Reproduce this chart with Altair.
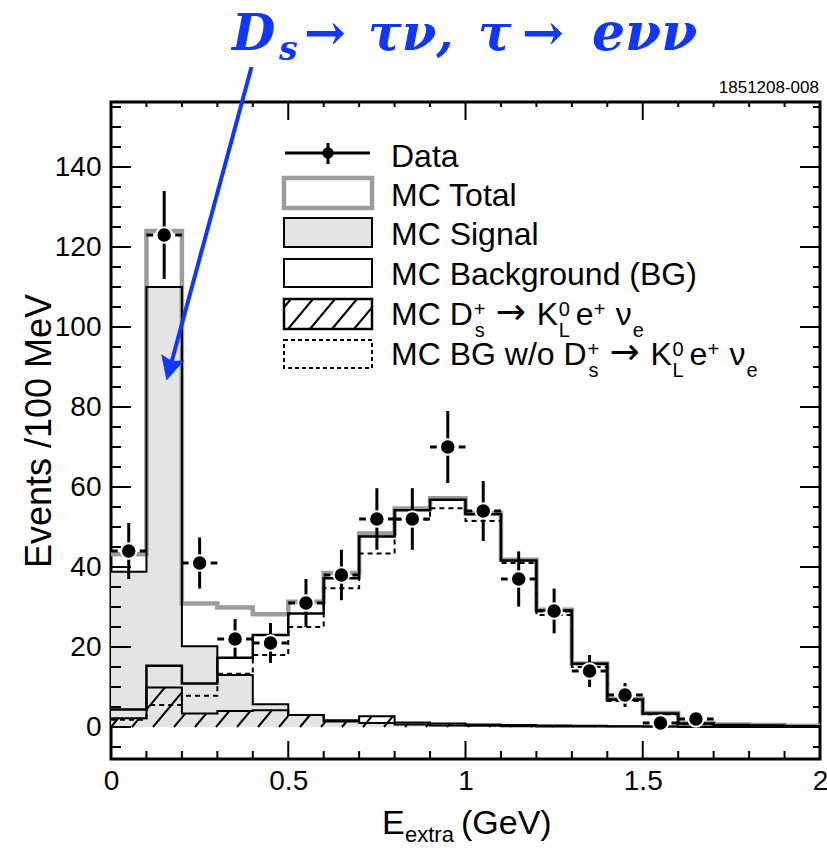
import altair as alt
import numpy as np
import pandas as pd

# ---------------- values ----------------
bin_lo = [0.0, 0.1, 0.2, 0.3, 0.4, 0.5, 0.6, 0.7, 0.8, 0.9,
          1.0, 1.1, 1.2, 1.3, 1.4, 1.5, 1.6, 1.7, 1.8, 1.9]
bin_width = 0.1

mc_total = [43.2, 124.0, 30.9, 29.9, 28.2, 31.3, 38.5, 48.4, 54.6, 57.2,
            53.5, 41.8, 29.3, 15.9, 7.0, 3.5, 1.0, 0.6, 0.5, 0.3]
mc_signal = [38.8, 110.0, 20.2, 13.0, 5.7, 3.0, 1.4, 1.0, 0.6, 0.4,
             0.3, 0.2, 0.1, 0.1, 0.1, 0.1, 0.0, 0.0, 0.0, 0.0]
mc_bg = [4.4, 15.3, 10.9, 17.3, 23.0, 28.4, 37.2, 47.6, 54.2, 56.8,
         53.2, 41.6, 29.1, 15.8, 6.9, 3.4, 0.9, 0.5, 0.4, 0.2]
mc_kl = [2.2, 9.9, 3.4, 4.0, 4.2, 3.0, 1.7, 2.7, 1.1, 0.9,
         0.6, 0.5, 0.4, 0.3, 0.2, 0.1, 0.1, 0.1, 0.1, 0.1]
mc_bg_wo = [1.8, 5.5, 7.8, 13.3, 18.0, 25.0, 34.7, 43.4, 51.9, 54.7,
            51.5, 41.0, 28.0, 15.0, 6.5, 3.2, 0.8, 0.4, 0.3, 0.1]

data_x = [0.05, 0.15, 0.25, 0.35, 0.45, 0.55, 0.65, 0.75, 0.85, 0.95,
          1.05, 1.15, 1.25, 1.35, 1.45, 1.55, 1.65]
data_y = [44, 123, 41, 22, 21, 31, 38, 52, 52, 70,
          54, 37, 29, 14, 8, 1, 2]
data_err = [7.0, 11.0, 6.4, 5.0, 5.0, 6.0, 6.3, 7.7, 7.7, 9.0,
            7.5, 6.9, 5.6, 4.0, 3.0, 1.2, 1.5]

x_tick_labels = [0, 0.5, 1, 1.5, 2]
y_tick_labels = [0, 20, 40, 60, 80, 100, 120, 140]

# ---------------- layout ----------------
W, H = 709, 657
PAD_L, PAD_T, PAD_R, PAD_B = 111, 102, 7, 89
XMIN, XMAX = 0.0, 2.0
YMIN, YMAX = -8.0, 156.25
PXX = W / (XMAX - XMIN)
PXY = H / (YMAX - YMIN)

SANS = "Liberation Sans"
SERIF = "DejaVu Serif"
BLUE = "#1036ff"
GRAY_LINE = "#9c9c9c"
GRAY_FILL = "#e4e4e4"


def ax(px):  # absolute page pixel -> data x
    return XMIN + (px - PAD_L) / PXX


def ay(py):  # absolute page pixel -> data y
    return YMAX - (py - PAD_T) / PXY


xs = alt.Scale(domain=[XMIN, XMAX], nice=False, zero=False)
ys = alt.Scale(domain=[YMIN, YMAX], nice=False, zero=False)
x_axis = alt.Axis(values=x_tick_labels, format="~g", ticks=False, domain=False, grid=False,
                  labelFont=SANS, labelFontSize=28, labelColor="black", labelPadding=8,
                  labelFlush=False, tickSize=0, title=None)
y_axis = alt.Axis(values=y_tick_labels, ticks=False, domain=False, grid=False,
                  labelFont=SANS, labelFontSize=28, labelColor="black", labelPadding=10,
                  tickSize=0, title=None)


def XQ(f):
    return alt.X(f, type="quantitative", scale=xs, axis=x_axis)


def YQ(f):
    return alt.Y(f, type="quantitative", scale=ys, axis=y_axis)


one = pd.DataFrame({"k": [0]})


def step_df(vals):
    return pd.DataFrame({"x": bin_lo + [bin_lo[-1] + bin_width],
                         "y": list(vals) + [vals[-1]],
                         "z": 0.0})


def step_line(vals, **kw):
    return alt.Chart(step_df(vals)).mark_line(interpolate="step-after", **kw).encode(
        x=XQ("x"), y=YQ("y"))


layers = []

# signal fill
layers.append(alt.Chart(step_df(mc_signal)).mark_area(
    interpolate="step-after", color=GRAY_FILL, opacity=1).encode(
    x=XQ("x"), y=YQ("y"), y2=alt.Y2("z")))

# MC total (thick gray)
layers.append(step_line(mc_total, color=GRAY_LINE, strokeWidth=4.5))
# signal outline
layers.append(step_line(mc_signal, color="black", strokeWidth=2))
# MC background
layers.append(step_line(mc_bg, color="black", strokeWidth=2.5))

# hatched K_L histogram
HATCH_SP, HATCH_K = 21.0, 1.2
segs = []
for lo, h in zip(bin_lo, mc_kl):
    x0 = (lo - XMIN) * PXX
    x1 = (lo + bin_width - XMIN) * PXX
    hp = h * PXY
    if hp <= 0.5:
        continue
    kmin = int(np.floor((x0 - hp / HATCH_K) / HATCH_SP)) - 1
    kmax = int(np.ceil(x1 / HATCH_SP)) + 1
    for k in range(kmin, kmax + 1):
        c = k * HATCH_SP
        a = max(c, x0)
        b = min(c + hp / HATCH_K, x1)
        if b - a > 0.8:
            segs.append((XMIN + a / PXX, (a - c) * HATCH_K / PXY,
                         XMIN + b / PXX, (b - c) * HATCH_K / PXY))

# legend boxes (page pixels)
LBX0, LBX1 = 284, 372
rows_box = {"total": (178, 208), "signal": (218, 247), "bg": (259, 287),
            "kl": (299, 329), "wo": (340, 368)}
by0, by1 = rows_box["kl"]
bh = by1 - by0
for k in range(-3, 8):
    c = LBX0 + 4 + k * 22.0
    a = max(c, LBX0)
    b = min(c + bh / HATCH_K, LBX1)
    if b - a > 0.8:
        segs.append((ax(a), ay(by1 - (a - c) * HATCH_K), ax(b), ay(by1 - (b - c) * HATCH_K)))

hatch_df = pd.DataFrame(segs, columns=["x", "y", "x2", "y2"])


def lrect(row, **kw):
    y0, y1 = rows_box[row]
    df = pd.DataFrame({"x": [ax(LBX0)], "x2": [ax(LBX1)], "y": [ay(y0)], "y2": [ay(y1)]})
    return alt.Chart(df).mark_rect(**kw).encode(x=XQ("x"), x2="x2", y=YQ("y"), y2="y2")


layers.append(lrect("total", fill="white", stroke=GRAY_LINE, strokeWidth=4.5))
layers.append(lrect("signal", fill=GRAY_FILL, stroke="black", strokeWidth=2))
layers.append(lrect("bg", fill="white", stroke="black", strokeWidth=2))
layers.append(lrect("kl", fill="white", stroke="black", strokeWidth=2.5))
layers.append(lrect("wo", fill="white", stroke="black", strokeWidth=2, strokeDash=[4, 3]))

layers.append(alt.Chart(hatch_df).mark_rule(color="black", strokeWidth=2).encode(
    x=XQ("x"), y=YQ("y"), x2="x2", y2="y2"))
layers.append(step_line(mc_kl, color="black", strokeWidth=2))
# BG without K_L (dashed)
layers.append(step_line(mc_bg_wo, color="black", strokeWidth=2, strokeDash=[5, 4]))

# ---------------- data points ----------------
dd = pd.DataFrame({"x": data_x, "y": data_y, "e": data_err})
dd["lo"] = dd["y"] - dd["e"]
dd["hi"] = dd["y"] + dd["e"]
IN = 11.0 / PXX
dd["xl0"] = dd["x"] - bin_width / 2
dd["xl1"] = dd["x"] - IN
dd["xr0"] = dd["x"] + IN
dd["xr1"] = dd["x"] + bin_width / 2
layers.append(alt.Chart(dd).mark_rule(color="black", strokeWidth=3).encode(
    x=XQ("x"), y=YQ("lo"), y2="hi"))
layers.append(alt.Chart(dd).mark_rule(color="black", strokeWidth=3).encode(
    x=XQ("xl0"), x2="xl1", y=YQ("y")))
layers.append(alt.Chart(dd).mark_rule(color="black", strokeWidth=3).encode(
    x=XQ("xr0"), x2="xr1", y=YQ("y")))
layers.append(alt.Chart(dd).mark_circle(size=240, fill="black", stroke="white",
                                         strokeWidth=2, opacity=1).encode(
    x=XQ("x"), y=YQ("y")))

# ---------------- ticks on all four sides ----------------
y_major = y_tick_labels
y_minor = [v for v in range(-5, 156, 5) if v % 20 != 0]
x_major = x_tick_labels
x_minor = [round(0.1 * i, 1) for i in range(1, 20) if i % 5 != 0]


def yticks(vals, x0, x1):
    return alt.Chart(pd.DataFrame({"v": vals})).mark_rule(color="black", strokeWidth=2).encode(
        y=YQ("v"), x=alt.value(x0), x2=alt.value(x1))


def xticks(vals, y0, y1):
    return alt.Chart(pd.DataFrame({"v": vals})).mark_rule(color="black", strokeWidth=2).encode(
        x=XQ("v"), y=alt.value(y0), y2=alt.value(y1))


layers += [yticks(y_major, 0, 20), yticks(y_minor, 0, 10),
           yticks(y_major, W - 20, W), yticks(y_minor, W - 7, W),
           xticks(x_major, H, H - 18), xticks(x_minor, H, H - 8),
           xticks(x_major, 0, 18), xticks(x_minor, 0, 5)]

# ---------------- text helpers ----------------
AW = {' ': 278, 'M': 833, 'C': 722, 'D': 722, 'a': 556, 't': 278, 'T': 611, 'o': 556,
      'l': 222, 'S': 667, 'i': 222, 'g': 556, 'n': 556, 'B': 667, 'c': 500, 'k': 500,
      'r': 333, 'u': 556, 'd': 556, '(': 333, ')': 333, 'G': 778, 'w': 722, '/': 278,
      'e': 556, 's': 500, '+': 584, '0': 556, 'L': 556, 'K': 667, 'E': 667, 'x': 500,
      'V': 667}


def tw(s, size):
    return sum(AW.get(ch, 556) for ch in s) * size / 1000.0


def txt(s, px, py, size, font=SANS, color="black", align="left", baseline="alphabetic", **kw):
    return alt.Chart(one).mark_text(text=s, font=font, fontSize=size, color=color,
                                    align=align, baseline=baseline, **kw).encode(
        x=alt.value(px - PAD_L), y=alt.value(py - PAD_T))


# ---------------- legend ----------------
LTX = 391
LFS, SFS = 32, 20
base = {"data": 167, "total": 206, "signal": 245, "bg": 285, "kl": 325, "wo": 365}

layers.append(alt.Chart(one).mark_rule(color="black", strokeWidth=3).encode(
    x=alt.value(285 - PAD_L), x2=alt.value(370 - PAD_L), y=alt.value(153 - PAD_T)))
layers.append(alt.Chart(one).mark_rule(color="black", strokeWidth=3).encode(
    x=alt.value(328 - PAD_L), y=alt.value(143 - PAD_T), y2=alt.value(164 - PAD_T)))
layers.append(alt.Chart(one).mark_circle(size=130, fill="black", opacity=1).encode(
    x=alt.value(328 - PAD_L), y=alt.value(153 - PAD_T)))

layers.append(txt("Data", LTX, base["data"], LFS))
layers.append(txt("MC Total", LTX, base["total"], LFS))
layers.append(txt("MC Signal", LTX, base["signal"], LFS))
layers.append(txt("MC Background (BG)", LTX, base["bg"], LFS))


def decay_line(prefix, b):
    out = [txt(prefix, LTX, b, LFS)]
    x = LTX + tw(prefix, LFS)
    sup, sub = b - 9, b + 12
    out.append(txt("+", x + 1, sup, SFS))
    out.append(txt("s", x + 2, sub, SFS))
    out.append(txt("\u2192", x + 23, b - 1, 36, font="DejaVu Sans"))
    out.append(txt("K", x + 64, b, LFS))
    out.append(txt("0", x + 86, sup, SFS))
    out.append(txt("L", x + 86, sub, SFS))
    out.append(txt("e", x + 103, b, LFS))
    out.append(txt("+", x + 121, sup, SFS))
    out.append(txt("\u03bd", x + 143, b, LFS))
    out.append(txt("e", x + 160, sub, SFS))
    return out


layers += decay_line("MC D", base["kl"])
layers += decay_line("MC BG w/o D", base["wo"])

# ---------------- axis titles ----------------
layers.append(txt("E", 382, 834, 34))
layers.append(txt("extra", 405, 842, 22))
layers.append(txt("(GeV)", 461, 834, 34))
layers.append(txt("Events /100 MeV", 51, 431, 36, align="center", angle=270))

# small figure id
layers.append(txt("1851208-008", 819, 93, 17, align="right"))

# ---------------- blue annotation ----------------
TS = 50
TK = dict(font=SERIF, color=BLUE, fontStyle="italic", fontWeight="bold")
AK = dict(font=SERIF, color=BLUE, fontWeight="bold")
layers.append(txt("D", 232, 50, TS, **TK))
layers.append(txt("s", 279, 60, 33, **TK))
layers.append(txt("\u2192", 304, 50, 50, **AK))
layers.append(txt("\u03c4\u03bd,", 368, 50, TS, **TK))
layers.append(txt("\u03c4", 478, 50, TS, **TK))
layers.append(txt("\u2192", 522, 50, 50, **AK))
layers.append(txt("e\u03bd\u03bd", 592, 50, 52, **TK))

# arrow
TIP = (166.7, 380.0)
START = (251.5, 67.0)
ang = np.degrees(np.arctan2(START[0] - TIP[0], TIP[1] - START[1]))
d = np.array([TIP[0] - START[0], TIP[1] - START[1]])
d = d / np.linalg.norm(d)
HEAD_UNIT = 11.5
ctr = np.array(TIP) - HEAD_UNIT * d
layers.append(alt.Chart(one).mark_rule(color=BLUE, strokeWidth=4).encode(
    x=alt.value(START[0] - PAD_L), y=alt.value(START[1] - PAD_T),
    x2=alt.value(float(ctr[0]) - PAD_L), y2=alt.value(float(ctr[1]) - PAD_T)))
layers.append(alt.Chart(one).mark_point(
    shape="M0,1L-1,-1L0,-0.7L1,-1Z", size=(2 * HEAD_UNIT) ** 2, filled=True,
    fill=BLUE, stroke=BLUE, strokeWidth=0.5, opacity=1, angle=float(ang)).encode(
    x=alt.value(float(ctr[0]) - PAD_L), y=alt.value(float(ctr[1]) - PAD_T)))

chart = alt.layer(*layers).properties(
    width=W, height=H,
    padding={"left": PAD_L, "top": PAD_T, "right": PAD_R, "bottom": PAD_B},
    autosize=alt.AutoSizeParams(type="none"),
    background="white",
).configure_view(stroke="black", strokeWidth=3)

chart.save("out.html", embed_options={"renderer": "svg", "actions": False})
